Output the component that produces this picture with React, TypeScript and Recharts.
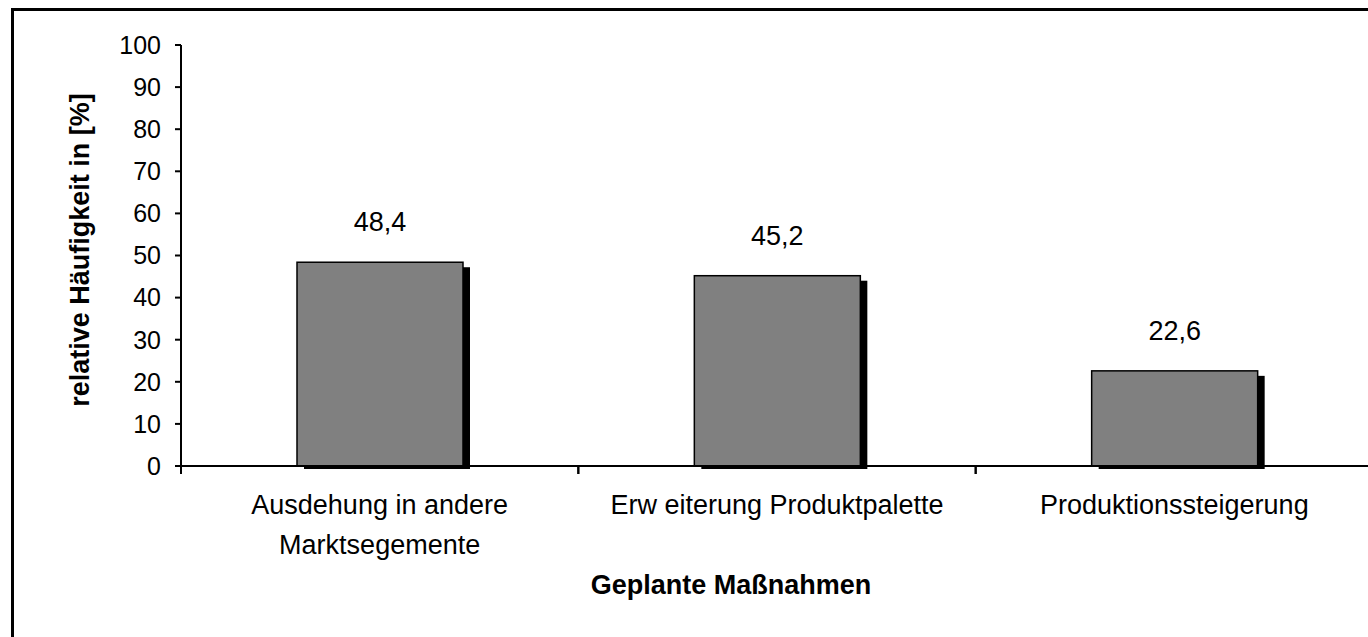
import { BarChart, Bar, XAxis, YAxis, LabelList } from 'recharts';

const categories = ['Ausdehung in andere|Marktsegemente', 'Erw eiterung Produktpalette', 'Produktionssteigerung'];
const values = [48.4, 45.2, 22.6];
const yTicks = [0, 10, 20, 30, 40, 50, 60, 70, 80, 90, 100];

const data = categories.map((name, i) => ({ name, value: values[i] }));

const FONT = '"Liberation Sans", Arial, sans-serif';
const BAND = 397.3;

function ShadowBar(props: any) {
  const { x, y, width, height } = props;
  if (!height || height <= 0) return null;
  return (
    <g>
      <rect x={x + 7} y={y + 5} width={width} height={height - 2} fill="#000" />
      <rect x={x} y={y} width={width} height={height} fill="#808080" stroke="#000" strokeWidth={1.5} />
    </g>
  );
}

// tick y sits below the axis by the tick size + margin, so pull back to the axis line
function CategoryTick(props: any) {
  const { x, y, payload } = props;
  const axisY = y - 8;
  const lines = String(payload.value).split('|');
  return (
    <g>
      <line x1={x - BAND / 2} y1={axisY} x2={x - BAND / 2} y2={axisY + 8} stroke="#000" strokeWidth={2} />
      <line x1={x + BAND / 2} y1={axisY} x2={x + BAND / 2} y2={axisY + 8} stroke="#000" strokeWidth={2} />
      {lines.map((t: string, i: number) => (
        <text key={i} x={x} y={axisY + 48 + i * 40} textAnchor="middle" fontSize={27} fontFamily={FONT} fill="#000">
          {t}
        </text>
      ))}
    </g>
  );
}

const fmt = (v: any) => String(v).replace('.', ',');

export default function App() {
  return (
    <div style={{ position: 'absolute', left: 0, top: 0, width: 1368, height: 637, overflow: 'hidden', background: '#fff' }}>
      <div style={{ position: 'absolute', left: 11, top: 8, width: 1450, height: 700, border: '3px solid #000', boxSizing: 'border-box' }} />
      <div style={{ position: 'absolute', left: 0, top: 0 }}>
        <BarChart width={1380} height={637} data={data} margin={{ top: 45, right: 7, left: 0, bottom: 0 }}>
          <XAxis
            dataKey="name"
            height={171}
            axisLine={{ stroke: '#000', strokeWidth: 2 }}
            tickLine={false}
            tick={<CategoryTick />}
            interval={0}
            label={{
              value: 'Geplante Maßnahmen',
              content: () => (
                <text x={731} y={594} textAnchor="middle" fontSize={27} fontWeight="bold" fontFamily={FONT} fill="#000">
                  Geplante Maßnahmen
                </text>
              ),
            }}
          />
          <YAxis
            width={181}
            domain={[0, 100]}
            ticks={yTicks}
            interval={0}
            axisLine={{ stroke: '#000', strokeWidth: 2 }}
            tickLine={{ stroke: '#000', strokeWidth: 2 }}
            tickSize={6}
            tickMargin={14}
            tick={{ fontSize: 25, fontFamily: FONT, fill: '#000' }}
            label={{
              value: 'relative Häufigkeit in [%]',
              content: () => (
                <text
                  x={89}
                  y={250}
                  transform="rotate(-90 89 250)"
                  textAnchor="middle"
                  fontSize={27}
                  fontWeight="bold"
                  fontFamily={FONT}
                  fill="#000"
                >
                  relative Häufigkeit in [%]
                </text>
              ),
            }}
          />
          <Bar dataKey="value" barSize={166} shape={<ShadowBar />} isAnimationActive={false}>
            <LabelList
              dataKey="value"
              position="top"
              offset={31}
              formatter={fmt}
              style={{ fontSize: 27, fontFamily: FONT, fill: '#000' }}
            />
          </Bar>
        </BarChart>
      </div>
    </div>
  );
}
